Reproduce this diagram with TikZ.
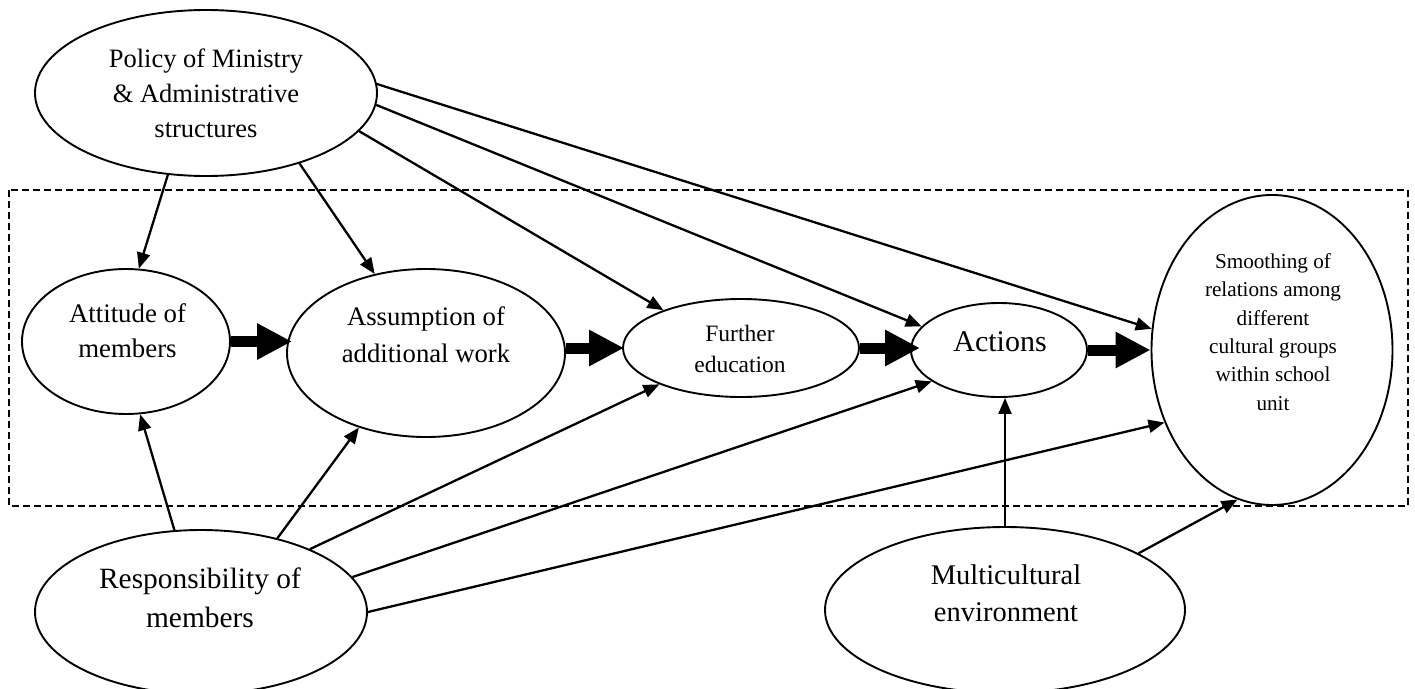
\documentclass[tikz,border=0pt]{standalone}
\usepackage{fontspec}
\setmainfont{Liberation Serif}
\usetikzlibrary{shapes.geometric,arrows.meta}
\tikzset{
  oval/.style={ellipse, draw=black, line width=1.9pt, inner sep=0pt, fill=white},
  lbl/.style={align=center, inner sep=0pt},
  arr/.style={line width=2.3pt, -{Triangle[length=16pt,width=13pt]}},
  bigarr/.style={line width=11pt, -{Triangle[length=35pt,width=34pt]}},
  frame/.style={dash pattern=on 7pt off 4pt, line width=1.6pt}
}
\begin{document}
\begin{tikzpicture}[x=1pt,y=-1pt]
\useasboundingbox (0,0) rectangle (1415,688);
\draw[frame] (9,190) rectangle (1408,506);

\node[oval, minimum width=342pt, minimum height=166pt] (pol) at (206,93) {};
\node[oval, minimum width=208pt, minimum height=145pt] (att) at (126,341.5) {};
\node[oval, minimum width=278pt, minimum height=168pt] (ass) at (426,353) {};
\node[oval, minimum width=236pt, minimum height=98pt] (fur) at (741,348) {};
\node[oval, minimum width=176pt, minimum height=94pt] (act) at (999,350) {};
\node[oval, minimum width=241pt, minimum height=310pt] (smo) at (1272,350) {};
\node[oval, minimum width=332pt, minimum height=164pt] (res) at (201,612) {};
\node[oval, minimum width=360pt, minimum height=166pt] (mul) at (1005,610) {};

\node[lbl, font=\fontsize{26.5}{35}\selectfont] (poltxt) at (206,92.9) {Policy of Ministry\\\& Administrative\\structures};
\node[lbl, font=\fontsize{26.8}{35}\selectfont] (atttxt) at (127.5,331) {Attitude of\\members};
\node[lbl, font=\fontsize{26.7}{37}\selectfont] (asstxt) at (426,334.3) {Assumption of\\additional work};
\node[lbl, font=\fontsize{23.5}{31}\selectfont] (furtxt) at (740,349.4) {Further\\education};
\node[lbl, font=\fontsize{30}{36}\selectfont] (acttxt) at (1000,341.5) {Actions};
\node[lbl, font=\fontsize{21.2}{28.4}\selectfont] (smotxt) at (1273,332) {Smoothing of\\relations among\\different\\cultural groups\\within school\\unit};
\node[lbl, font=\fontsize{29.4}{39}\selectfont] (restxt) at (200,597.4) {Responsibility of\\members};
\node[lbl, font=\fontsize{28.5}{37}\selectfont] (multxt) at (1006,593.7) {Multicultural\\environment};

\draw[arr] (pol.-115.4) -- (att.80.9);
\draw[arr] (pol.-37) -- (ass.123.2);
\draw[arr] (pol.-14.7) -- (fur.154);
\draw[arr] (pol.-4.7) -- (act.163);
\draw[arr] (pol.3.3) -- (smo.170.5);

\draw[arr] (res.108.9) -- (att.-79.5);
\draw[arr] (res.44.2) -- (ass.-132);
\draw[arr] (res.30.7) -- (fur.-156.4);
\draw[arr] (res.13) -- (act.-155.7);
\draw[arr] (res.0) -- (smo.-146.6);

\draw[arr] (mul.north) -- (mul.north |- act.south);
\draw[arr] (mul.23.4) -- (smo.-103.6);

\draw[bigarr] (att.east) -- ([xshift=6pt]att.east -| ass.west);
\draw[bigarr] (ass.east |- fur.west) -- ([xshift=2pt]fur.west);
\draw[bigarr] (fur.east) -- ([xshift=10pt]fur.east -| act.west);
\draw[bigarr] (act.east) -- (smo.west);
\end{tikzpicture}
\end{document}
